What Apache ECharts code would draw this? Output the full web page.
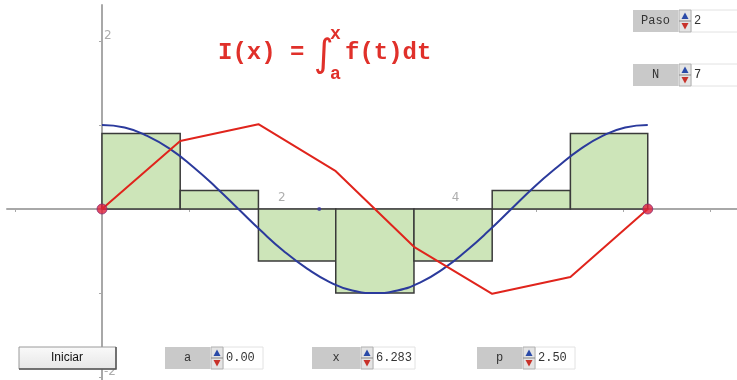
<!DOCTYPE html>
<html>
<head>
<meta charset="utf-8">
<script src="https://cdn.jsdelivr.net/npm/echarts@6.0.0/dist/echarts.min.js"></script>
<style>
html,body{margin:0;padding:0;background:#fff;}
#chart{width:737px;height:380px;}
</style>
</head>
<body>
<div id="chart"></div>
<script>
// particion de [0, 2pi] en N=7 trozos y altura de cada rectangulo
var breaks = [0, 0.90, 1.80, 2.69, 3.59, 4.49, 5.39, 6.28];
var heights = [0.90, 0.22, -0.62, -1.00, -0.62, 0.22, 0.90];
// suma acumulada (funcion integral aproximada)
var integral = [0, 0.81, 1.01, 0.45, -0.45, -1.01, -0.81, 0];
// curva f(t)
var curveX = [0, 0.26, 0.52, 0.79, 1.05, 1.31, 1.57, 1.83, 2.09, 2.36, 2.62, 2.88, 3.14,
              3.40, 3.67, 3.93, 4.19, 4.45, 4.71, 4.97, 5.24, 5.50, 5.76, 6.02, 6.28];
var curveY = [1.00, 0.97, 0.87, 0.71, 0.50, 0.26, 0.00, -0.26, -0.50, -0.71, -0.87, -0.97, -1.00,
              -0.97, -0.87, -0.71, -0.50, -0.26, 0.00, 0.26, 0.50, 0.71, 0.87, 0.97, 1.00];
var endPoints = [[0, 0], [6.28, 0]];
var pPoint = [[2.5, 0]];
var xTicks = [-1, 0, 1, 2, 3, 4, 5, 6, 7];
var xLabels = [2, 4];
var yTicks = [-2, -1, 1, 2];
var yLabels = [-2, 2];

var rects = [];
for (var i = 0; i < heights.length; i++) {
  rects.push([breaks[i], breaks[i + 1], heights[i]]);
}
var curve = curveX.map(function (x, i) { return [x, curveY[i]]; });
var redLine = breaks.map(function (x, i) { return [x, integral[i]]; });
// etiquetas de los ejes como puntos sin simbolo
var labelPts = xLabels.map(function (v) { return {value: [v, 0], label: {position: 'top', offset: [6, 0]}}; })
  .concat(yLabels.map(function (v) { return {value: [0, v], label: {position: 'right', distance: 2, offset: [0, -5]}}; }));

// controles tipo Descartes (solo decoracion)
function spinner(x, y, h) {
  var m = y + h / 2;
  return [
    {type: 'rect', shape: {x: x, y: y, width: 12, height: h}, style: {fill: '#e4e4e4', stroke: '#b0b0b0', lineWidth: 1}},
    {type: 'line', shape: {x1: x, y1: m, x2: x + 12, y2: m}, style: {stroke: '#888', lineWidth: 1}},
    {type: 'polygon', shape: {points: [[x + 2.5, m - 2], [x + 9.5, m - 2], [x + 6, y + 2.5]]}, style: {fill: '#2a4aa8'}},
    {type: 'polygon', shape: {points: [[x + 2.5, m + 2], [x + 9.5, m + 2], [x + 6, y + h - 2.5]]}, style: {fill: '#c8322a'}}
  ];
}
function control(x, y, lw, fw, label, value) {
  var h = 22;
  var els = [
    {type: 'rect', shape: {x: x, y: y, width: lw, height: h}, style: {fill: '#c9c9c9'}},
    {type: 'text', x: x + lw / 2, y: y + h / 2, style: {text: label, font: '12px "Liberation Mono"', fill: '#333', align: 'center', verticalAlign: 'middle'}},
    {type: 'rect', shape: {x: x + lw + 13, y: y, width: fw, height: h}, style: {fill: '#fff', stroke: '#e2e2e2', lineWidth: 1}},
    {type: 'text', x: x + lw + 16, y: y + h / 2, style: {text: value, font: '12px "Liberation Mono"', fill: '#333', align: 'left', verticalAlign: 'middle'}}
  ];
  return els.concat(spinner(x + lw + 1, y, h));
}

var graphics = []
  .concat(control(633, 10, 45, 50, 'Paso', '2'))
  .concat(control(633, 64, 45, 50, 'N', '7'))
  .concat(control(165, 347, 45, 40, 'a', '0.00'))
  .concat(control(312, 347, 48, 42, 'x', '6.283'))
  .concat(control(477, 347, 45, 40, 'p', '2.50'));
graphics.push(
  {type: 'rect', z: 100, shape: {x: 19, y: 347, width: 97, height: 22},
   style: {fill: new echarts.graphic.LinearGradient(0, 0, 0, 1, [{offset: 0, color: '#fafafa'}, {offset: 1, color: '#e6e6e6'}]), stroke: '#9a9a9a', lineWidth: 1}},
  {type: 'polyline', z: 101, shape: {points: [[116, 347], [116, 369], [19, 369]]}, style: {stroke: '#555', lineWidth: 1.5}},
  {type: 'text', z: 101, x: 67, y: 358, style: {text: 'Iniciar', font: '12px "Liberation Sans"', fill: '#111', align: 'center', verticalAlign: 'middle'}},
  // formula
  {type: 'text', x: 218, y: 53, style: {text: 'I(x) =', font: 'bold 24px "Liberation Mono"', fill: '#e0302a', verticalAlign: 'middle'}},
  {type: 'text', x: 314, y: 56, style: {text: '\u222B', font: '38px "DejaVu Sans"', fill: '#e0302a', verticalAlign: 'middle'}},
  {type: 'text', x: 330, y: 34, style: {text: 'x', font: 'bold 18px "Liberation Mono"', fill: '#e0302a', verticalAlign: 'middle'}},
  {type: 'text', x: 330, y: 74, style: {text: 'a', font: 'bold 18px "Liberation Mono"', fill: '#e0302a', verticalAlign: 'middle'}},
  {type: 'text', x: 345, y: 53, style: {text: 'f(t)dt', font: 'bold 24px "Liberation Mono"', fill: '#e0302a', verticalAlign: 'middle'}}
);

var myChart = echarts.init(document.getElementById('chart'));
var option = {
  backgroundColor: '#fff',
  animation: false,
  grid: {left: 7, right: 0, top: 5, bottom: 0, containLabel: false},
  xAxis: {
    type: 'value', min: -1.093, max: 7.307,
    splitLine: {show: false},
    axisLine: {onZero: true, lineStyle: {color: '#a8a8a8', width: 2}},
    axisTick: {show: true, customValues: xTicks, length: 3, lineStyle: {color: '#a8a8a8'}},
    axisLabel: {show: false}
  },
  yAxis: {
    type: 'value', min: -2.036, max: 2.429,
    splitLine: {show: false},
    axisLine: {onZero: true, lineStyle: {color: '#a8a8a8', width: 2}},
    axisTick: {show: true, customValues: yTicks, length: 3, lineStyle: {color: '#a8a8a8'}},
    axisLabel: {show: false}
  },
  graphic: {elements: graphics, z: 50},
  series: [
    {
      type: 'custom', z: 1,
      data: rects,
      encode: {x: [0, 1], y: 2},
      renderItem: function (params, api) {
        var p0 = api.coord([api.value(0), api.value(2)]);
        var p1 = api.coord([api.value(1), 0]);
        return {
          type: 'rect',
          shape: {x: p0[0], y: Math.min(p0[1], p1[1]), width: p1[0] - p0[0], height: Math.abs(p1[1] - p0[1])},
          style: {fill: '#cde5b9', stroke: '#3a3a3a', lineWidth: 1.5}
        };
      }
    },
    {
      type: 'line', z: 3, data: curve, smooth: true, showSymbol: false,
      lineStyle: {color: '#2b3a9c', width: 2}
    },
    {
      type: 'line', z: 4, data: redLine, showSymbol: false,
      lineStyle: {color: '#e0241c', width: 2}
    },
    {
      type: 'scatter', z: 5, data: endPoints, symbolSize: 10,
      itemStyle: {color: '#e0203a', borderColor: '#8a2a70', borderWidth: 1}
    },
    {
      type: 'scatter', z: 5, data: pPoint, symbolSize: 4,
      itemStyle: {color: '#3a3aa0'}
    },
    {
      type: 'scatter', z: 2, data: labelPts, symbolSize: 0, silent: true,
      label: {show: true, color: '#999', fontSize: 12, fontFamily: 'DejaVu Sans',
        formatter: function (p) { return p.value[0] !== 0 ? String(p.value[0]) : String(p.value[1]); }}
    }
  ]
};
myChart.setOption(option);
</script>
</body>
</html>
